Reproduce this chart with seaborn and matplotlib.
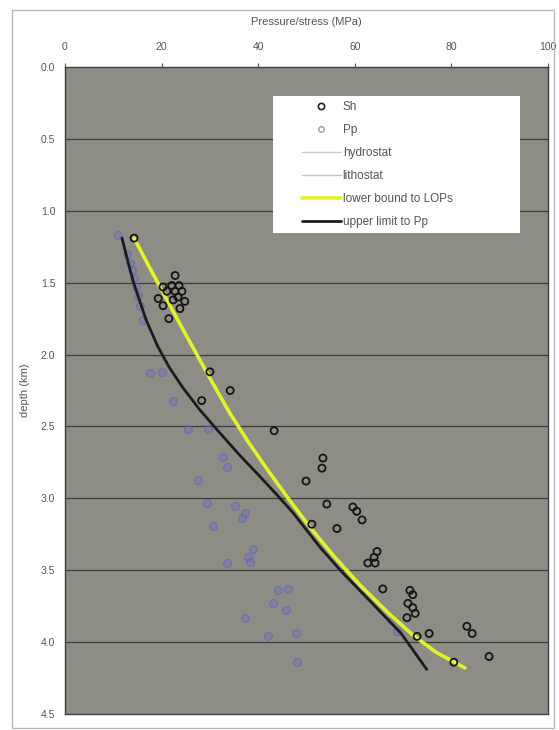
import numpy as np
import pandas as pd
import matplotlib.pyplot as plt
import seaborn as sns
from matplotlib.lines import Line2D
from matplotlib.patches import Rectangle

sns.set_style("white")
plt.rcParams['font.family'] = ['Liberation Sans', 'DejaVu Sans']

# ---- data ----
# Sh (black open circles): pressure (MPa), depth (km)
sh_p = [14.3, 22.8, 20.3, 22.1, 23.6, 21.1, 22.8, 24.2, 19.3, 22.4, 23.4, 24.8, 20.3, 23.8, 21.5,
        30.0, 34.2, 28.3, 43.3, 53.4, 53.2, 49.9, 54.2, 59.6, 60.4, 61.5, 51.1, 56.3,
        64.6, 64.0, 62.7, 64.2, 65.8, 71.4, 72.0, 71.0, 72.0, 72.5, 70.8, 72.9, 75.4,
        83.2, 84.3, 80.5, 87.8]
sh_d = [1.19, 1.45, 1.53, 1.52, 1.52, 1.56, 1.56, 1.56, 1.61, 1.62, 1.60, 1.63, 1.66, 1.68, 1.75,
        2.12, 2.25, 2.32, 2.53, 2.72, 2.79, 2.88, 3.04, 3.06, 3.09, 3.15, 3.18, 3.21,
        3.37, 3.41, 3.45, 3.45, 3.63, 3.64, 3.67, 3.73, 3.76, 3.80, 3.83, 3.96, 3.94,
        3.89, 3.94, 4.14, 4.10]

# Pp (faded blue markers)
pp_p = [11.0, 12.8, 13.4, 13.9, 14.3, 14.7, 15.1, 15.5, 16.1,
        17.6, 20.1, 22.4, 25.5, 29.6, 32.7, 33.5, 27.5, 29.4, 35.2, 37.3, 36.6, 30.6,
        38.9, 37.9, 33.5, 38.3, 44.1, 46.2, 43.1, 45.8, 37.3, 47.8, 42.0, 48.0,
        67.7, 68.7]
pp_d = [1.17, 1.30, 1.36, 1.41, 1.47, 1.53, 1.59, 1.66, 1.76,
        2.13, 2.12, 2.32, 2.52, 2.52, 2.71, 2.78, 2.87, 3.03, 3.05, 3.10, 3.14, 3.19,
        3.35, 3.41, 3.45, 3.44, 3.64, 3.63, 3.73, 3.78, 3.83, 3.94, 3.96, 4.14,
        3.85, 3.92]

# lower bound to LOPs (yellow)
lop_p = [14.3, 17.6, 20.8, 24.0, 27.3, 30.6, 34.0, 37.8, 41.9, 46.2, 50.7, 55.6, 61.0,
         67.0, 72.0, 76.8, 82.8]
lop_d = [1.19, 1.40, 1.60, 1.80, 2.00, 2.20, 2.40, 2.60, 2.80, 3.00, 3.20, 3.40, 3.60,
         3.80, 3.95, 4.07, 4.18]

# upper limit to Pp (black)
upp_p = [11.8, 13.0, 14.2, 15.5, 16.8, 19.3, 21.6, 24.4, 27.8, 31.4, 35.9, 40.4, 44.0, 47.2,
         52.8, 57.0, 63.6, 69.6, 74.9]
upp_d = [1.19, 1.35, 1.50, 1.63, 1.76, 1.95, 2.09, 2.23, 2.38, 2.52, 2.69, 2.85, 2.98, 3.10,
         3.34, 3.50, 3.73, 3.94, 4.19]

x_ticks = [0, 20, 40, 60, 80, 100]
y_ticks = [0.0, 0.5, 1.0, 1.5, 2.0, 2.5, 3.0, 3.5, 4.0, 4.5]

sh = pd.DataFrame({"p": sh_p, "d": sh_d})
pp = pd.DataFrame({"p": pp_p, "d": pp_d})
lop = pd.DataFrame({"p": lop_p, "d": lop_d})
upp = pd.DataFrame({"p": upp_p, "d": upp_d})

fig = plt.figure(figsize=(5.59, 7.30), dpi=100)
ax = fig.add_axes([65/559, 1 - 714/730, (548 - 65)/559, (714 - 67)/730])
ax.set_facecolor('#8d8d86')

# outer chart border
fig.patches.append(Rectangle((12/559, 2/730), 542/559, 718/730, transform=fig.transFigure,
                             fill=False, edgecolor='#b8b8b8', lw=1))

# horizontal gridlines
for yv in y_ticks[1:-1]:
    ax.axhline(yv, color='#3c3c3c', lw=0.9, zorder=1)

sns.scatterplot(data=pp, x="p", y="d", ax=ax, marker='o', s=32, color='#7070c8',
                edgecolor='#5a5ab4', alpha=0.42, linewidth=1, zorder=2, legend=False)
sns.lineplot(data=upp, x="p", y="d", ax=ax, sort=False, estimator=None,
             color='#1c1c1c', lw=2.0, zorder=3)
sns.lineplot(data=lop, x="p", y="d", ax=ax, sort=False, estimator=None,
             color='#e4f22c', lw=2.6, zorder=4)
sns.scatterplot(data=sh, x="p", y="d", ax=ax, marker='o', s=26, facecolor='none',
                edgecolor='#151515', linewidth=1.3, zorder=5, legend=False)

ax.set_xlim(0, 100)
ax.set_ylim(4.5, 0.0)
ax.xaxis.tick_top()
ax.xaxis.set_label_position('top')
ax.set_xticks(x_ticks)
ax.set_yticks(y_ticks)
ax.set_yticklabels([f"{v:.1f}" for v in y_ticks])
ax.tick_params(axis='both', labelsize=7.5, colors='#555555', length=3, width=0.8,
               direction='out', pad=4)
ax.tick_params(axis='x', pad=8)
ax.set_xlabel("Pressure/stress (MPa)", fontsize=8, color='#555555', labelpad=12)
ax.set_ylabel("depth (km)", fontsize=8, color='#555555', labelpad=8)
for s in ax.spines.values():
    s.set_color('#404040')
    s.set_linewidth(1.0)

# white legend panel
ax.add_patch(Rectangle((0.431, 0.743), 0.511, 0.212, transform=ax.transAxes,
                       facecolor='white', edgecolor='none', zorder=6))

handles = [
    Line2D([], [], ls='none', marker='o', markersize=4.5, markerfacecolor='none',
           markeredgecolor='#222222', markeredgewidth=1.2),
    Line2D([], [], ls='none', marker='o', markersize=4, markerfacecolor='none',
           markeredgecolor='#999999', markeredgewidth=1),
    Line2D([], [], color='#cfcfcf', lw=1),
    Line2D([], [], color='#c4c4c4', lw=1),
    Line2D([], [], color='#e4f22c', lw=2.6),
    Line2D([], [], color='#1c1c1c', lw=2.0),
]
labels = ["Sh", "Pp", "hydrostat", "lithostat", "lower bound to LOPs", "upper limit to Pp"]
leg = ax.legend(handles, labels, loc='upper left', bbox_to_anchor=((302 - 65)/483, 0.947),
                frameon=False, fontsize=8.5, handlelength=3.3, handletextpad=0.15,
                labelspacing=0.93, borderpad=0, borderaxespad=0)
leg.set_zorder(7)
for t in leg.get_texts():
    t.set_color('#555555')

fig.savefig("out.png", dpi=100)
